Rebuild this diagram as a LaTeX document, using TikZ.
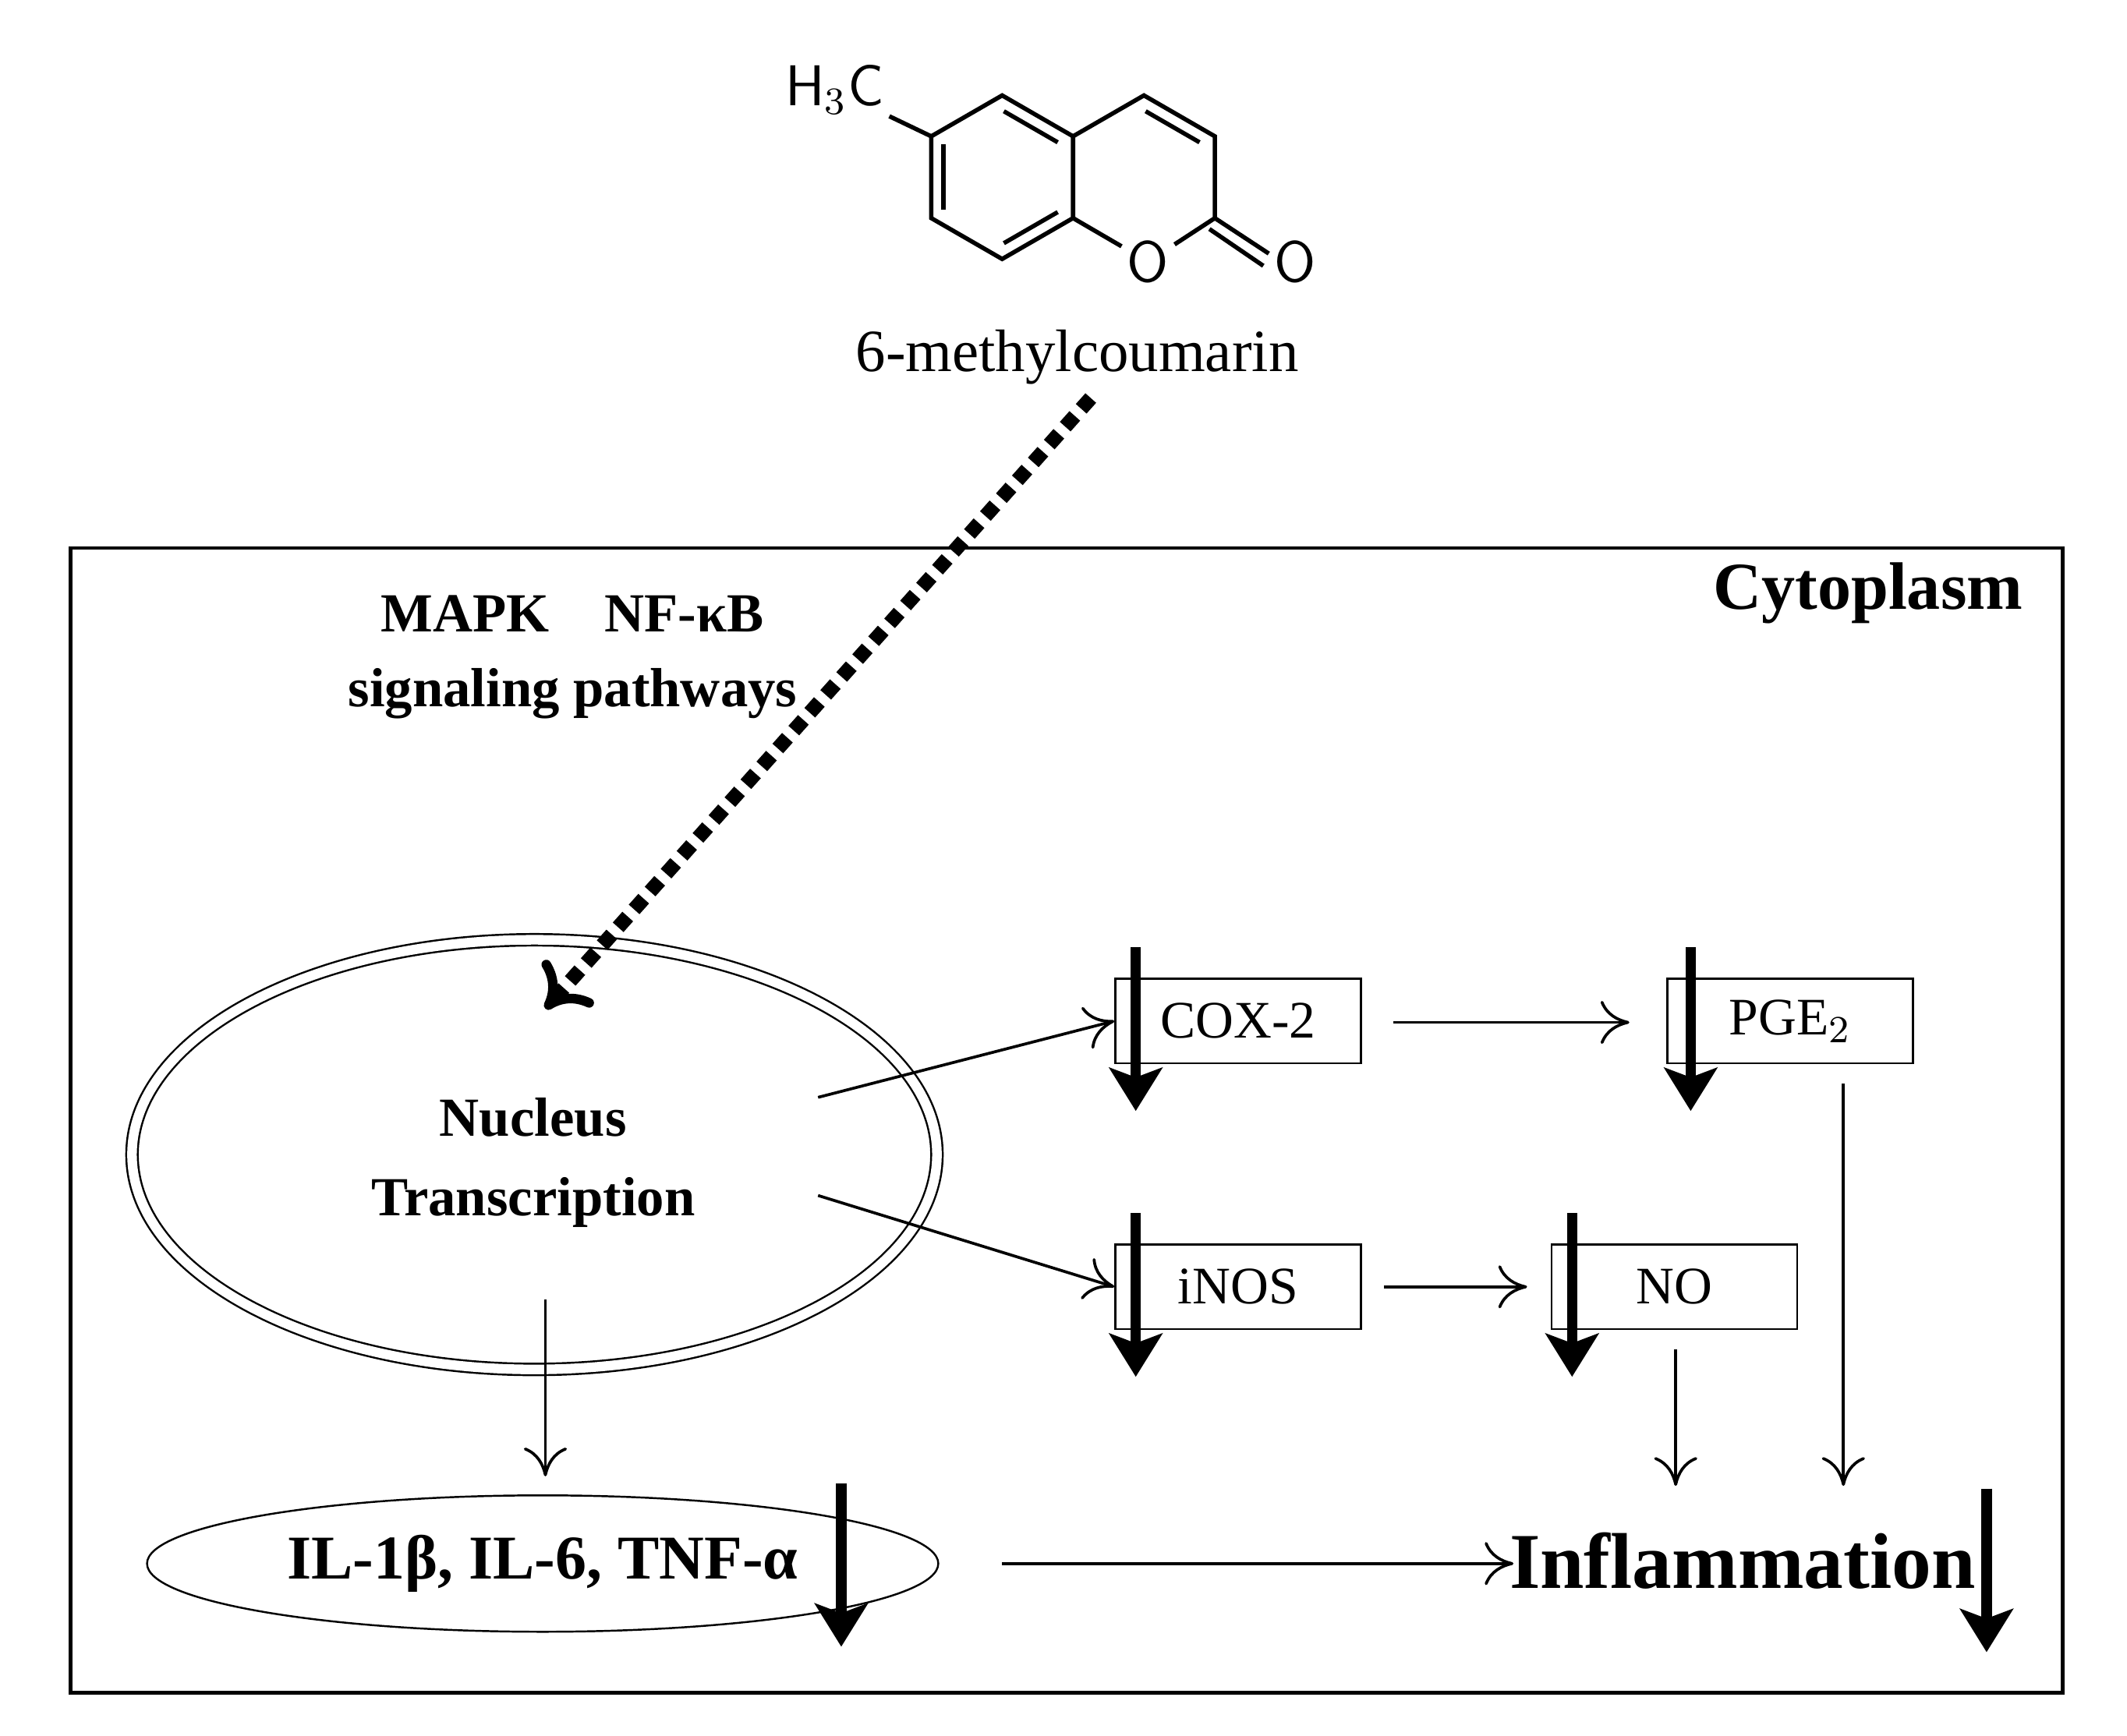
\documentclass[tikz,border=0pt]{standalone}
\usepackage{fontspec}
\setmainfont{Liberation Serif}
\usetikzlibrary{arrows.meta,positioning,shapes.geometric,calc}
\tikzset{
  box/.style={draw, rectangle, minimum width=1.8cm, minimum height=0.62cm, inner sep=0pt, font=\fontsize{11}{13}\selectfont},
  thin arrow/.style={-{To[length=6pt,width=9pt]}, line width=0.6pt},
  down/.style={-{Stealth[length=9pt,width=11pt,inset=2pt]}, line width=2.2pt},
  bond/.style={line width=0.9pt}
}
\begin{document}
\begin{tikzpicture}[x=0.01cm,y=-0.01cm]
  \useasboundingbox (0,0) rectangle (1560,1273);
  % molecule
  \coordinate (a1) at (735,70);  \coordinate (a2) at (787,100);
  \coordinate (a3) at (787,160); \coordinate (a4) at (735,190);
  \coordinate (a5) at (683,160); \coordinate (a6) at (683,100);
  \coordinate (b1) at (839,70);  \coordinate (b2) at (891,100);
  \coordinate (b3) at (891,160);
  \node[inner sep=1pt, font=\sffamily\fontsize{12}{14}\selectfont] (O1) at (842,192) {O};
  \node[inner sep=1pt, font=\sffamily\fontsize{12}{14}\selectfont] (O2) at (950,192) {O};
  \node[inner sep=1pt, font=\sffamily\fontsize{12}{14}\selectfont] (me) at (612,66) {H$_3$C};
  \draw[bond] (a1) -- (a2) -- (a3) -- (a4) -- (a5) -- (a6) -- cycle;
  \draw[bond] (a2) -- (b1) -- (b2) -- (b3) -- (O1) -- (a3);
  \draw[bond] (me) -- (a6);
  \draw[bond] ($(a6)!0.1!(a5)+(9,0)$) -- ($(a5)!0.1!(a6)+(9,0)$);
  \draw[bond] ($(a4)!0.12!(a3)+(-5,-8)$) -- ($(a3)!0.12!(a4)+(-5,-8)$);
  \draw[bond] ($(a1)!0.12!(a2)+(-5,8)$) -- ($(a2)!0.12!(a1)+(-5,8)$);
  \draw[bond] ($(b1)!0.12!(b2)+(-5,8)$) -- ($(b2)!0.12!(b1)+(-5,8)$);
  \draw[bond] (b3) -- ($(O2.west)+(0,-6)$);
  \draw[bond] ($(b3)+(-4,8)$) -- ($(O2.west)+(-4,3)$);
  \node[font=\fontsize{12.5}{15}\selectfont] (drug) at (790,262) {6-methylcoumarin};

  % cell
  \draw[line width=0.8pt] (52,402) rectangle (1513,1242);
  \node[font=\bfseries\fontsize{14}{16}\selectfont] (cyto) at (1370,435) {Cytoplasm};
  \node[font=\bfseries\fontsize{11.5}{15.5}\selectfont, align=center] (path) at (420,482) {MAPK\quad NF-κB\\signaling pathways};

  \node[draw, double, double distance=2pt, ellipse, minimum width=5.9cm, minimum height=3.15cm] (nuc) at (392,847) {};
  \node[font=\bfseries\fontsize{11.5}{16.5}\selectfont, align=center] (nuctxt) at (391,853) {Nucleus\\Transcription};
  \node[draw, ellipse, inner sep=0pt, minimum width=5.8cm, minimum height=1cm] (cyt) at (398,1147) {};
  \node[font=\bfseries\fontsize{13}{15}\selectfont] (cyttxt) at (398,1147) {IL-1β, IL-6, TNF-α};
  \node[font=\bfseries\fontsize{16.5}{19}\selectfont] (infl) at (1278,1145) {Inflammation};

  \node[box] (cox) at (908,749) {COX-2};
  \node[box] (pge) at (1313,749) {PGE$_2$};
  \node[box] (inos) at (908,944) {iNOS};
  \node[box] (no) at (1228,944) {NO};

  \coordinate (dstart) at (800,292);
  \coordinate (dtip) at (400,740);
  \draw[line width=3pt, dotted, -{To[length=8pt,width=14pt,line width=2pt]}] (dstart) -- (dtip);

  \draw[thin arrow] (600,805) -- (cox.west);
  \draw[thin arrow] (600,877) -- (inos.west);
  \draw[thin arrow] (1022,750) -- (1195,750);
  \draw[thin arrow] (1015,944) -- (1120,944);
  \draw[thin arrow] (1229,990) -- (1229,1090);
  \draw[thin arrow] (1352,795) -- (1352,1090);
  \draw[thin arrow] (400,953) -- (400,1083);
  \draw[thin arrow] (735,1147) -- (1110,1147);

  % decrease markers
  \foreach \x/\y in {833/695, 1240/695, 833/890, 1153/890, 617/1088, 1457/1092}
    \draw[down] (\x,\y) -- ++(0,120);
\end{tikzpicture}
\end{document}
